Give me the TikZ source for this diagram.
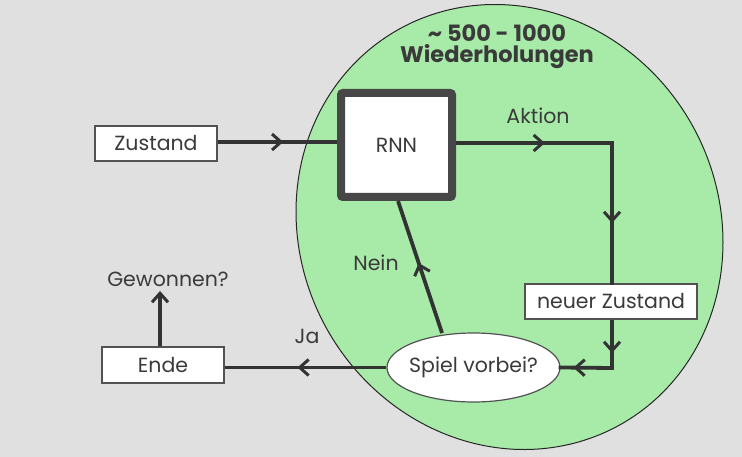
\documentclass[tikz,border=0pt]{standalone}
\usepackage{fontspec}
\setmainfont{Poppins}
\usetikzlibrary{arrows.meta,decorations.markings,shapes.geometric}
\definecolor{bg}{HTML}{E0E0E0}
\definecolor{grn}{HTML}{A8EBA8}
\definecolor{ink}{HTML}{333333}
\definecolor{txt}{HTML}{3A3A3A}
\tikzset{
  box/.style={draw=ink!85, line width=1.2pt, fill=white, inner sep=0pt, font=\fontsize{20.5}{24}\selectfont, text=txt},
  lbl/.style={font=\fontsize{20.5}{24}\selectfont, text=txt, inner sep=0pt},
  conn/.style={draw=ink, line width=3.8pt},
  barb/.style={Straight Barb[length=9pt,width=16pt,line width=3pt]},
  midarrow/.style={postaction={decorate}, decoration={markings, mark=at position #1 with {\arrow[ink]{Straight Barb[length=9pt,width=16pt,line width=3pt]}}}},
}
\begin{document}
\begin{tikzpicture}[x=1pt,y=-1pt]
\fill[bg] (0,0) rectangle (742,457);
\useasboundingbox (0,0) rectangle (742,457);
\draw[fill=grn, draw=black!85, line width=1pt] plot[domain=0:360, samples=240, variable=\t] ({509.5+213.5*cos(\t)}, {227+222*sin(\t)+15.2*cos(\t)}) -- cycle;
\node[lbl, font=\bfseries\fontsize{22.5}{21}\selectfont, align=center] (title) at (497,47) {\textasciitilde{} 500 - 1000\\Wiederholungen};
\node[box, minimum width=122pt, minimum height=35pt] (zu) at (156,143.5) {Zustand};
\node[draw=ink!90, line width=8pt, rounded corners=2pt, fill=white, minimum width=111pt, minimum height=104pt, font=\fontsize{20.5}{24}\selectfont, text=txt] (rnn) at (396.5,145) {RNN};
\node[box, minimum width=172pt, minimum height=35pt] (nz) at (611,301.5) {neuer Zustand};
\node[box, ellipse, inner xsep=-12pt, inner ysep=0pt, minimum width=173pt, minimum height=69pt] (sv) at (473.5,367.5) {Spiel vorbei?};
\node[box, minimum width=122pt, minimum height=36pt] (ende) at (163,365) {Ende};
\node[lbl] (aktion) at (538,116) {Aktion};
\node[lbl] (nein) at (376,263) {Nein};
\node[lbl] (ja) at (307,336) {Ja};
\node[lbl] (gew) at (168,279) {Gewonnen?};
\coordinate (c1) at (612,143);
\coordinate (c2) at (612,368);
\coordinate (rb) at (398,201);
\coordinate (st) at (442,333);
\draw[conn, midarrow=0.55] (zu.east |- 0,142) -- (rnn.west |- 0,142);
\draw[conn, midarrow=0.57] (rnn.east |- c1) -- (c1);
\draw[conn, midarrow=0.57, line cap=rect] (c1) -- (nz.north -| c1);
\draw[conn, midarrow=0.69] (nz.south -| c2) -- (c2);
\draw[conn, midarrow=0.75, line cap=rect] (c2) -- (sv.east);
\draw[conn, midarrow=0.53] (st) -- (rb);
\draw[conn, midarrow=0.55] (sv.west) -- (ende.east |- sv.west);
\draw[conn, -{Straight Barb[length=9pt,width=16pt,line width=3pt]}] (ende.north -| 160,0) -- (160,291);
\end{tikzpicture}
\end{document}
